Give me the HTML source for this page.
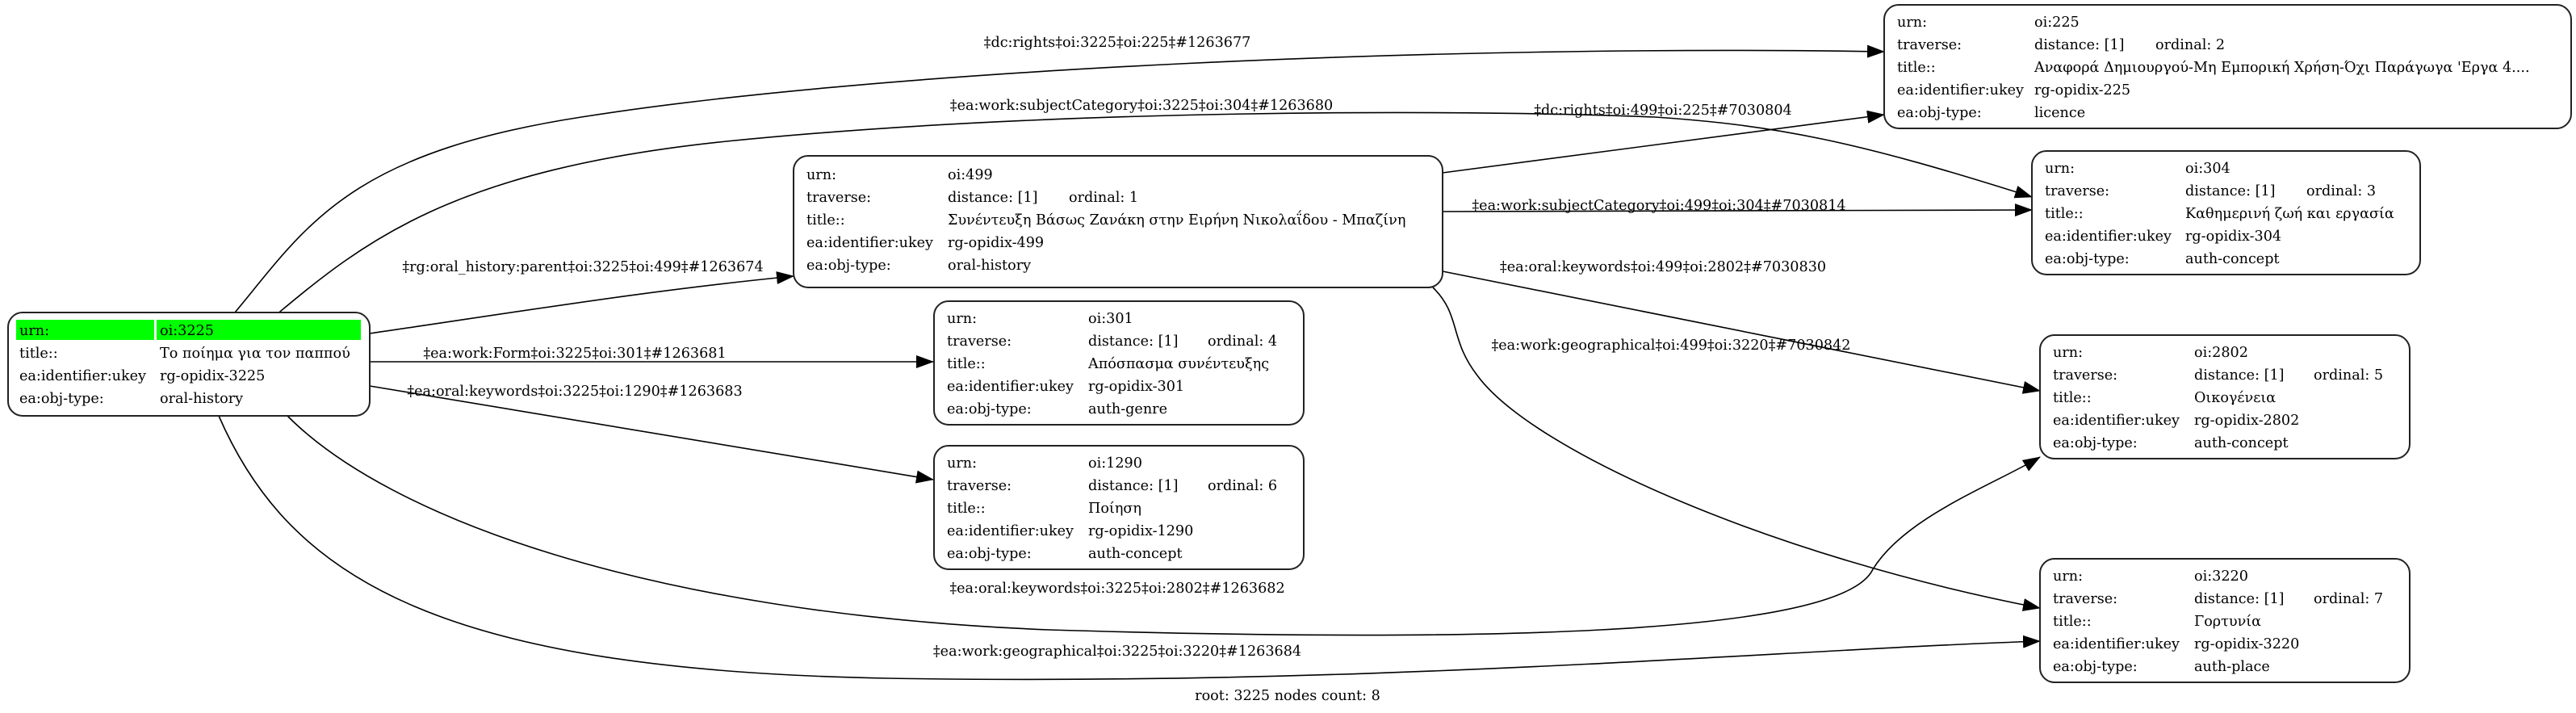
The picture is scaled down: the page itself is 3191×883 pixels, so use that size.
<!DOCTYPE html>
<html><head><meta charset="utf-8"><style>
html,body{margin:0;padding:0;background:#fff;}
svg{display:block;}
text{font-family:"DejaVu Serif","Liberation Serif",serif;font-size:17.6px;fill:#000;}
.n{fill:#fff;stroke:#222;stroke-width:2;}
.e{fill:none;stroke:#000;stroke-width:1.6;}
</style></head><body>
<svg width="3191" height="883" viewBox="0 0 3191 883" xmlns="http://www.w3.org/2000/svg">
<defs><marker id="a" markerUnits="userSpaceOnUse" markerWidth="22" markerHeight="16" refX="21" refY="8" orient="auto"><path d="M0,0 L22,8 L0,16 z" fill="#000"/></marker></defs>

<!-- edges -->
<path class="e" marker-end="url(#a)" d="M291,387 C380,280 430,190 720,145 C1100,85 1800,55 2334,64"/>
<path class="e" marker-end="url(#a)" d="M342,390 C450,300 560,210 900,175 C1300,135 1800,135 2050,145 C2200,155 2300,175 2517,244"/>
<path class="e" marker-end="url(#a)" d="M458,413 C650,385 800,360 983,342"/>
<path class="e" marker-end="url(#a)" d="M458,448 L1156,448"/>
<path class="e" marker-end="url(#a)" d="M458,478 L1156,594"/>
<path class="e" marker-end="url(#a)" d="M356,515 C480,640 800,760 1300,780 C1800,795 2280,790 2320,705 C2360,640 2470,600 2527,566"/>
<path class="e" marker-end="url(#a)" d="M271,515 C360,720 550,830 1100,840 C1700,850 2200,805 2527,794"/>
<path class="e" marker-end="url(#a)" d="M1787,214 L2334,142"/>
<path class="e" marker-end="url(#a)" d="M1787,262 L2517,260"/>
<path class="e" marker-end="url(#a)" d="M1787,336 L2527,484"/>
<path class="e" marker-end="url(#a)" d="M1775,356 C1810,390 1795,420 1830,465 C1900,560 2200,690 2527,753"/>

<!-- edge labels -->
<text x="1384" y="58" text-anchor="middle">‡dc:rights‡oi:3225‡oi:225‡#1263677</text>
<text x="1414" y="136" text-anchor="middle">‡ea:work:subjectCategory‡oi:3225‡oi:304‡#1263680</text>
<text x="722" y="336" text-anchor="middle">‡rg:oral_history:parent‡oi:3225‡oi:499‡#1263674</text>
<text x="712" y="443" text-anchor="middle">‡ea:work:Form‡oi:3225‡oi:301‡#1263681</text>
<text x="712" y="490" text-anchor="middle">‡ea:oral:keywords‡oi:3225‡oi:1290‡#1263683</text>
<text x="1384" y="734" text-anchor="middle">‡ea:oral:keywords‡oi:3225‡oi:2802‡#1263682</text>
<text x="1384" y="812" text-anchor="middle">‡ea:work:geographical‡oi:3225‡oi:3220‡#1263684</text>
<text x="2060" y="142" text-anchor="middle">‡dc:rights‡oi:499‡oi:225‡#7030804</text>
<text x="2055" y="260" text-anchor="middle">‡ea:work:subjectCategory‡oi:499‡oi:304‡#7030814</text>
<text x="2060" y="336" text-anchor="middle">‡ea:oral:keywords‡oi:499‡oi:2802‡#7030830</text>
<text x="2070" y="433" text-anchor="middle">‡ea:work:geographical‡oi:499‡oi:3220‡#7030842</text>

<!-- root node -->
<rect class="n" x="10" y="387" width="448" height="128" rx="18"/>
<rect x="20" y="396" width="171" height="25" fill="#00ff00"/>
<rect x="194" y="396" width="253" height="25" fill="#00ff00"/>
<g transform="translate(24,0)">
<text y="415">urn:</text><text y="443">title::</text><text y="471">ea:identifier:ukey</text><text y="499">ea:obj-type:</text>
</g>
<g transform="translate(198,0)">
<text y="415">oi:3225</text><text y="443">Το ποίημα για τον παππού</text><text y="471">rg-opidix-3225</text><text y="499">oral-history</text>
</g>

<!-- 5-row nodes -->
<g transform="translate(983,193)">
<rect class="n" x="0" y="0" width="804" height="163" rx="18"/>
<g transform="translate(16,0)"><text y="29">urn:</text><text y="57">traverse:</text><text y="85">title::</text><text y="113">ea:identifier:ukey</text><text y="141">ea:obj-type:</text></g>
<g transform="translate(191,0)"><text y="29">oi:499</text><text y="57">distance: [1]</text><text x="150" y="57">ordinal: 1</text><text y="85">Συνέντευξη Βάσως Ζανάκη στην Ειρήνη Νικολαΐδου - Μπαζίνη</text><text y="113">rg-opidix-499</text><text y="141">oral-history</text></g>
</g>

<g transform="translate(2334,6)">
<rect class="n" x="0" y="0" width="851" height="153" rx="18"/>
<g transform="translate(16,0)"><text y="27">urn:</text><text y="55">traverse:</text><text y="83">title::</text><text y="111">ea:identifier:ukey</text><text y="139">ea:obj-type:</text></g>
<g transform="translate(186,0)"><text y="27">oi:225</text><text y="55">distance: [1]</text><text x="150" y="55">ordinal: 2</text><text y="83">Αναφορά Δημιουργού-Μη Εμπορική Χρήση-Όχι Παράγωγα 'Εργα 4....</text><text y="111">rg-opidix-225</text><text y="139">licence</text></g>
</g>

<g transform="translate(2517,187)">
<rect class="n" x="0" y="0" width="481" height="153" rx="18"/>
<g transform="translate(16,0)"><text y="27">urn:</text><text y="55">traverse:</text><text y="83">title::</text><text y="111">ea:identifier:ukey</text><text y="139">ea:obj-type:</text></g>
<g transform="translate(190,0)"><text y="27">oi:304</text><text y="55">distance: [1]</text><text x="150" y="55">ordinal: 3</text><text y="83">Καθημερινή ζωή και εργασία</text><text y="111">rg-opidix-304</text><text y="139">auth-concept</text></g>
</g>

<g transform="translate(1157,373)">
<rect class="n" x="0" y="0" width="458" height="153" rx="18"/>
<g transform="translate(16,0)"><text y="27">urn:</text><text y="55">traverse:</text><text y="83">title::</text><text y="111">ea:identifier:ukey</text><text y="139">ea:obj-type:</text></g>
<g transform="translate(191,0)"><text y="27">oi:301</text><text y="55">distance: [1]</text><text x="148" y="55">ordinal: 4</text><text y="83">Απόσπασμα συνέντευξης</text><text y="111">rg-opidix-301</text><text y="139">auth-genre</text></g>
</g>

<g transform="translate(1157,552)">
<rect class="n" x="0" y="0" width="458" height="153" rx="18"/>
<g transform="translate(16,0)"><text y="27">urn:</text><text y="55">traverse:</text><text y="83">title::</text><text y="111">ea:identifier:ukey</text><text y="139">ea:obj-type:</text></g>
<g transform="translate(191,0)"><text y="27">oi:1290</text><text y="55">distance: [1]</text><text x="148" y="55">ordinal: 6</text><text y="83">Ποίηση</text><text y="111">rg-opidix-1290</text><text y="139">auth-concept</text></g>
</g>

<g transform="translate(2527,415)">
<rect class="n" x="0" y="0" width="458" height="153" rx="18"/>
<g transform="translate(16,0)"><text y="27">urn:</text><text y="55">traverse:</text><text y="83">title::</text><text y="111">ea:identifier:ukey</text><text y="139">ea:obj-type:</text></g>
<g transform="translate(191,0)"><text y="27">oi:2802</text><text y="55">distance: [1]</text><text x="148" y="55">ordinal: 5</text><text y="83">Οικογένεια</text><text y="111">rg-opidix-2802</text><text y="139">auth-concept</text></g>
</g>

<g transform="translate(2527,692)">
<rect class="n" x="0" y="0" width="458" height="153" rx="18"/>
<g transform="translate(16,0)"><text y="27">urn:</text><text y="55">traverse:</text><text y="83">title::</text><text y="111">ea:identifier:ukey</text><text y="139">ea:obj-type:</text></g>
<g transform="translate(191,0)"><text y="27">oi:3220</text><text y="55">distance: [1]</text><text x="148" y="55">ordinal: 7</text><text y="83">Γορτυνία</text><text y="111">rg-opidix-3220</text><text y="139">auth-place</text></g>
</g>

<text x="1595" y="867" text-anchor="middle">root: 3225 nodes count: 8</text>
</svg>
</body></html>
